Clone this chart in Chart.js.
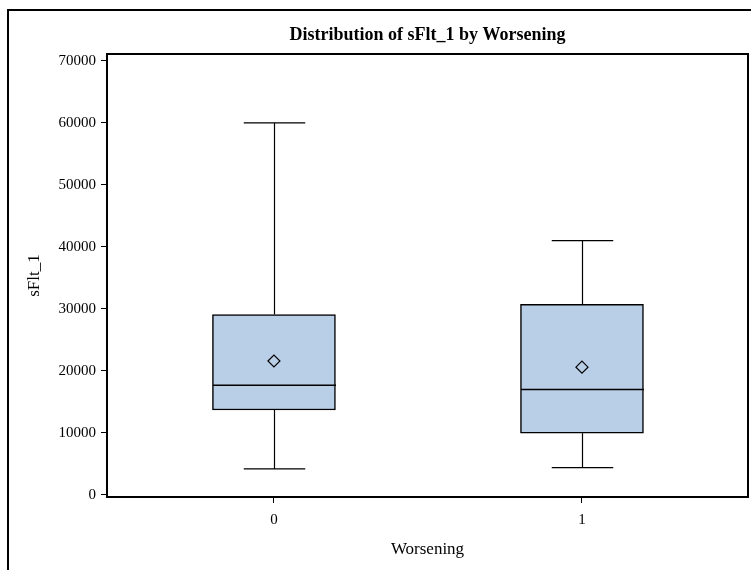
<!DOCTYPE html>
<html>
<head>
<meta charset="utf-8">
<title>Distribution of sFlt_1 by Worsening</title>
<script src="https://cdn.jsdelivr.net/npm/chart.js@4.4.1/dist/chart.umd.min.js"></script>
<style>
  html, body { margin: 0; padding: 0; background: #fff; }
  #wrap { position: relative; width: 751px; height: 570px; overflow: hidden; }
  #frame { position: absolute; left: 7px; top: 9px; width: 800px; height: 600px;
           border-left: 2px solid #000; border-top: 2px solid #000; }
  canvas { position: absolute; left: 0; top: 0; }
</style>
</head>
<body>
<div id="wrap">
  <div id="frame"></div>
  <canvas id="box" width="751" height="570"></canvas>
</div>
<script>
// groups of Worsening and the box statistics of sFlt_1 for each
const groups = ['0', '1'];
const whiskerLow = [4200, 4400];
const q1 = [13700, 9950];
const median = [17700, 17000];
const q3 = [29100, 30750];
const whiskerHigh = [60000, 41000];
const means = [21600, 20600];
const yTicks = [0, 10000, 20000, 30000, 40000, 50000, 60000, 70000];

const serif = 'Liberation Serif, Times New Roman, serif';
const boxWidth = 123;

// whiskers, caps, median line, plot frame and the title
const boxExtras = {
  id: 'boxExtras',
  afterDatasetsDraw(chart) {
    const { ctx, chartArea } = chart;
    const x = chart.scales.x, y = chart.scales.y;
    ctx.save();
    ctx.strokeStyle = '#000';
    groups.forEach((g, i) => {
      const cx = Math.round(x.getPixelForValue(i)) + 0.5;
      const lo = y.getPixelForValue(whiskerLow[i]);
      const hi = y.getPixelForValue(whiskerHigh[i]);
      const b = y.getPixelForValue(q1[i]);
      const t = y.getPixelForValue(q3[i]);
      const m = y.getPixelForValue(median[i]);
      ctx.lineWidth = 1.2;
      ctx.beginPath();
      ctx.moveTo(cx, t); ctx.lineTo(cx, hi);
      ctx.moveTo(cx - boxWidth / 4, hi); ctx.lineTo(cx + boxWidth / 4, hi);
      ctx.moveTo(cx, b); ctx.lineTo(cx, lo);
      ctx.moveTo(cx - boxWidth / 4, lo); ctx.lineTo(cx + boxWidth / 4, lo);
      ctx.stroke();
      ctx.lineWidth = 1.5;
      ctx.beginPath();
      ctx.moveTo(cx - boxWidth / 2, m); ctx.lineTo(cx + boxWidth / 2, m);
      ctx.stroke();
    });
    ctx.lineWidth = 2;
    ctx.strokeRect(chartArea.left, chartArea.top, chartArea.right - chartArea.left, chartArea.bottom - chartArea.top);

    ctx.fillStyle = '#000';
    ctx.font = 'bold 18px ' + serif;
    ctx.textAlign = 'center';
    ctx.textBaseline = 'middle';
    ctx.fillText('Distribution of sFlt_1 by Worsening', (chartArea.left + chartArea.right) / 2, 35);
    ctx.restore();
  }
};

new Chart(document.getElementById('box'), {
  type: 'bar',
  data: {
    datasets: [
      {
        type: 'scatter',
        label: 'Mean',
        order: 0,
        data: means.map((v, i) => ({ x: i, y: v })),
        pointStyle: 'rectRot',
        pointRadius: 6,
        pointHoverRadius: 6,
        backgroundColor: 'rgba(0,0,0,0)',
        borderColor: '#000',
        borderWidth: 1.2
      },
      {
        label: 'sFlt_1',
        order: 1,
        data: q1.map((v, i) => ({ x: i, y: [v, q3[i]] })),
        backgroundColor: '#B9CFE7',
        borderColor: '#000',
        borderWidth: 1.5,
        borderSkipped: false,
        barThickness: boxWidth
      }
    ]
  },
  options: {
    responsive: false,
    animation: false,
    events: [],
    layout: { autoPadding: false, padding: { top: 54, left: 0, right: 3, bottom: 0 } },
    plugins: {
      legend: { display: false },
      tooltip: { enabled: false },
      title: { display: false }
    },
    scales: {
      x: {
        type: 'linear',
        offset: false,
        min: -0.542,
        max: 1.539,
        afterBuildTicks: s => { s.ticks = groups.map((g, i) => ({ value: i })); },
        afterFit: s => { s.height = 73; s.paddingLeft = 0; s.paddingRight = 0; },
        ticks: {
          callback: v => groups[v],
          color: '#000',
          font: { family: serif, size: 15 },
          padding: 8,
          maxRotation: 0
        },
        grid: { offset: false, drawOnChartArea: false, drawTicks: true, tickLength: 6, color: '#000', lineWidth: 1 },
        border: { display: false },
        title: { display: true, text: 'Worsening', color: '#000', font: { family: serif, size: 17 }, padding: { top: 0, bottom: 10 } }
      },
      y: {
        min: -330,
        max: 71100,
        afterBuildTicks: s => { s.ticks = yTicks.map(v => ({ value: v })); },
        afterFit: s => { s.width = 107; },
        ticks: {
          callback: v => String(v),
          color: '#000',
          font: { family: serif, size: 15 },
          padding: 5
        },
        grid: { drawOnChartArea: false, drawTicks: true, tickLength: 6, color: '#000', lineWidth: 1 },
        border: { display: false },
        title: { display: true, text: 'sFlt_1', color: '#000', font: { family: serif, size: 17 }, padding: { top: 24, bottom: 0 } }
      }
    }
  },
  plugins: [boxExtras]
});
</script>
</body>
</html>
